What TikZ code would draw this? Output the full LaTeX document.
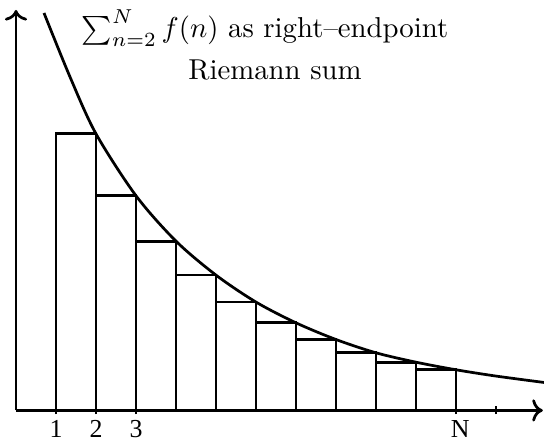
\documentclass[tikz,border=0pt]{standalone}
\usepackage{amsmath,amssymb}
\usepackage{fontspec}
\newfontfamily\tickfont{Liberation Serif}
\usepackage{tikz}
\usetikzlibrary{arrows.meta, positioning, calc}
\tikzset{
  axis/.style    = {->, line width=0.95pt},
  bar/.style     = {draw, line width=0.95pt},
  curve/.style   = {line width=0.95pt},
  tickmark/.style = {line width=0.95pt},
  ticklbl/.style = {below, inner sep=2pt, font=\tickfont\fontsize{9}{10}\selectfont},
  title/.style   = {anchor=base, inner sep=0pt},
}

\begin{document}
\begin{tikzpicture}[x=13.9pt, y=0.347pt]
  \useasboundingbox (-0.4,-32) rectangle (13.2,411);

  % axes
  \coordinate (o) at (0,0);
  \coordinate (xend) at (13.17,0);
  \coordinate (yend) at (0,401);
  \draw[axis] (o) -- (xend);
  \draw[axis] (o) -- (yend);

  % right-endpoint rectangles
  \foreach \i/\h in {1/277, 2/215, 3/169.5, 4/135.5, 5/108.5,
                     6/87.7, 7/71, 8/57.7, 9/48.3, 10/40.7}
    \draw[bar] (\i,0) rectangle ({\i+1},\h);

  % f(x)
  \draw[curve] plot[smooth] coordinates {(0.7,398) (1.35,334) (2,277)
    (3,215) (4,169.5) (5,135.5) (6,108.5) (7,87.7) (8,71) (9,57.7)
    (10,48.3) (11,40.7) (12,34.4) (13.2,28)};

  % ticks
  \foreach \k in {1,2,3,11,12}
    \draw[tickmark] (\k,-4) -- (\k,4);
  \node[ticklbl] (t1) at (1,-4) {1};
  \node[ticklbl] (t2) at (2,-4) {2};
  \node[ticklbl] (t3) at (3,-4) {3};
  \node[ticklbl, xshift=1.5pt] (tN) at (11,-4) {N};

  \node[title] (sumtxt) at (6.225,373) {$\sum_{n=2}^N f(n)$ as right--endpoint};
  \node[title] (riem) at (6.475,331) {Riemann sum};
\end{tikzpicture}
\end{document}
